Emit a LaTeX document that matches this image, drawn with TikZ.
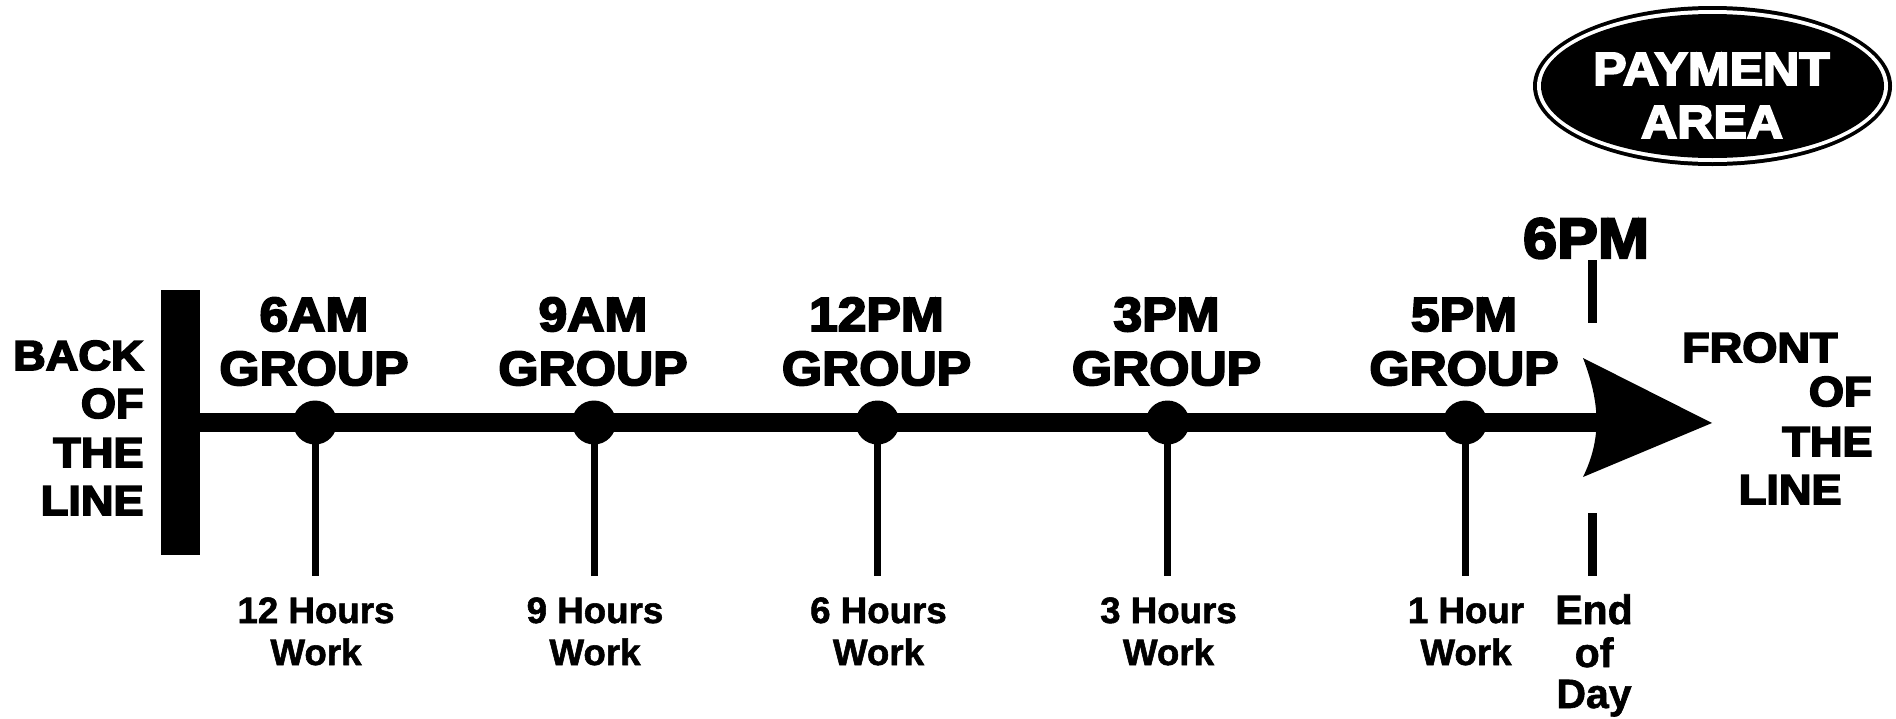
\documentclass[tikz,border=0pt]{standalone}
\usepackage{fontspec}
\setmainfont{Liberation Sans}
\newfontfamily\blk{Liberation Sans}[FakeBold=4,FakeStretch=1.075]
\newfontfamily\lbl{Liberation Sans}[FakeBold=1.5]
\tikzset{
  hd/.style={inner sep=0pt, anchor=base, font=\blk\bfseries\fontsize{24pt}{27pt}\selectfont},
  bighd/.style={inner sep=0pt, anchor=base, font=\blk\bfseries\fontsize{28.5pt}{32pt}\selectfont},
  side/.style={inner sep=0pt, anchor=base east, font=\blk\bfseries\fontsize{21pt}{24pt}\selectfont},
  paytext/.style={inner sep=0pt, anchor=base, text=white, font=\blk\bfseries\fontsize{23.3pt}{26pt}\selectfont},
  sub/.style={inner sep=0pt, anchor=base, font=\lbl\bfseries\fontsize{18.35pt}{21pt}\selectfont},
  endtxt/.style={inner sep=0pt, anchor=base, font=\lbl\bfseries\fontsize{20.5pt}{21pt}\selectfont},
  dot/.style={circle, fill=black, inner sep=0pt, minimum size=22pt},
  drop/.style={line width=3.5pt},
  mark6/.style={line width=4.5pt},
}
\begin{document}
\begin{tikzpicture}[x=0.5pt,y=-0.5pt]
\useasboundingbox (0,0) rectangle (1896,718);
% back bar and main line
\node[fill=black, inner sep=0pt, minimum width=19.5pt, minimum height=132.5pt] (bar) at (180.5,422.5) {};
\coordinate (lineend) at (1620,422.5);
\draw[line width=9.5pt] (bar.east) -- (lineend);
% arrow head
\coordinate (tip) at (1712,423);
\fill (1583,358) -- (tip) -- (1583,477) .. controls (1601,440) and (1601,405) .. (1583,358) -- cycle;
% groups
\foreach \n/\x/\tm/\hr in {1/315/6AM/12 Hours,2/594/9AM/9 Hours,3/877.5/12PM/6 Hours,4/1167.5/3PM/3 Hours,5/1465/5PM/1 Hour}{
  \node[dot] (d\n) at (\x,422.5) {};
  \coordinate (e\n) at (\x,576);
  \draw[drop] (d\n.center) -- (e\n);
  \node[hd] (t\n) at (\x-1,331) {\tm};
  \node[hd] (g\n) at (\x-1,385) {GROUP};
  \node[sub] (h\n) at (\x+1,623) {\hr};
  \node[sub] (w\n) at (\x+1,665) {Work};
}
% end of day marker
\coordinate (m1) at (1592.5,260);
\coordinate (m2) at (1592.5,323);
\coordinate (m3) at (1592.5,513);
\coordinate (m4) at (1592.5,576);
\draw[mark6] (m1) -- (m2);
\draw[mark6] (m3) -- (m4);
\node[bighd] (six) at (1586,258) {6PM};
\node[endtxt] (end1) at (1594,624) {End};
\node[endtxt] (end2) at (1594,667) {of};
\node[endtxt] (end3) at (1594,708) {Day};
% back of the line
\node[side] (b1) at (144,370) {BACK};
\node[side] (b2) at (144,418) {OF};
\node[side] (b3) at (144,467) {THE};
\node[side] (b4) at (144,515) {LINE};
% front of the line
\node[side] (f1) at (1838,362) {FRONT};
\node[side] (f2) at (1872,406) {OF};
\node[side] (f3) at (1873,456) {THE};
\node[side] (f4) at (1842,504) {LINE};
% payment area
\fill (1712.5,86) ellipse [x radius=179.5, y radius=80];
\fill[white] (1712.5,86) ellipse [x radius=175.5, y radius=76];
\fill (1712.5,86) ellipse [x radius=171.5, y radius=72];
\node[paytext] (p1) at (1711.5,85) {PAYMENT};
\node[paytext] (p2) at (1712,138) {AREA};
\end{tikzpicture}
\end{document}
